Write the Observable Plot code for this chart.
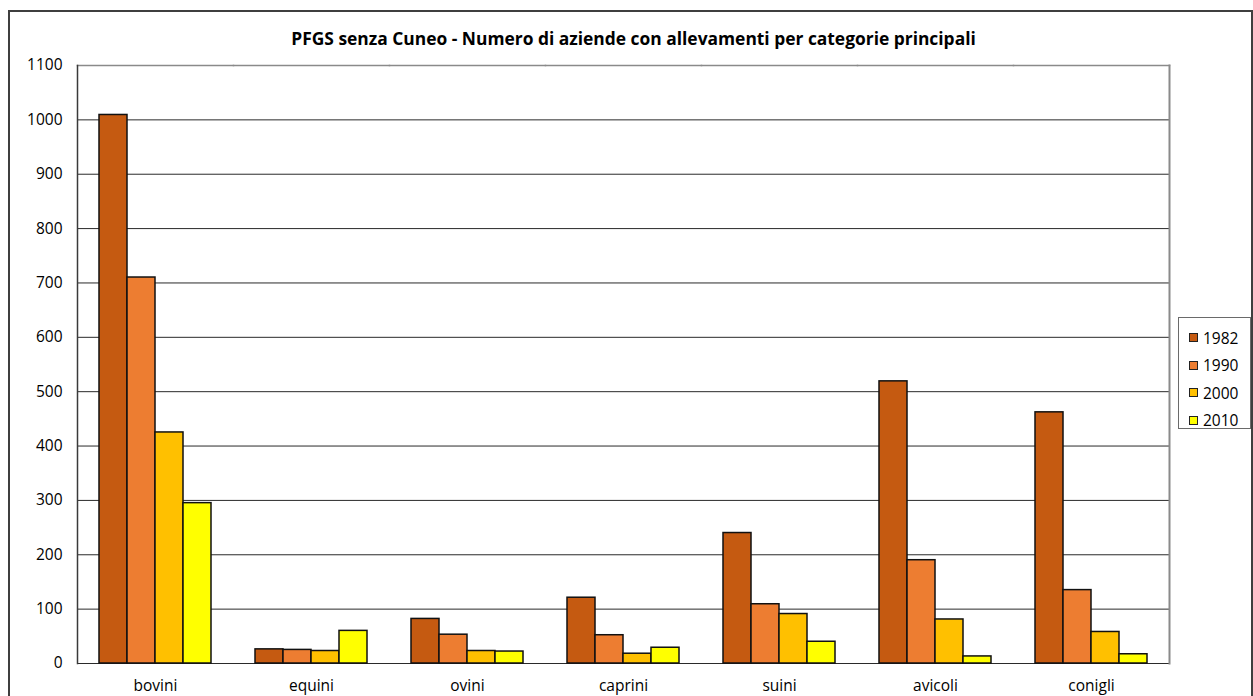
<!DOCTYPE html>
<html>
<head>
<meta charset="utf-8">
<script src="https://cdn.jsdelivr.net/npm/d3@7"></script>
<script src="https://cdn.jsdelivr.net/npm/@observablehq/plot@0.6"></script>
<style>
  html, body { margin: 0; padding: 0; background: #fff; }
  #wrap { position: relative; width: 1253px; height: 696px; overflow: hidden; background: #fff; font-family: "Open Sans", Lato, sans-serif; }
  #border { position: absolute; left: 8px; top: 10px; width: 1245px; height: 720px; box-sizing: border-box; border: 2px solid #3f3f3f; }
  #title { position: absolute; left: 0; width: 1253px; top: 26px; text-align: center; font-weight: bold; font-size: 17.4px; color: #000; white-space: nowrap; padding-left: 14px; box-sizing: border-box; }
  #chart { position: absolute; left: 0; top: 0; }
  #legend { position: absolute; left: 1178px; top: 317px; width: 73px; height: 112px; box-sizing: border-box; border: 1px solid #6a6a6a; background: #fff; padding-top: 6px; }
  .item { height: 27.5px; display: flex; align-items: center; font-size: 15.5px; color: #000; }
  .sw { width: 7px; height: 7px; border: 1.3px solid #222; margin-left: 10px; margin-right: 5px; }
</style>
</head>
<body>
<div id="wrap">
  <div id="border"></div>
  <div id="chart"></div>
  <div id="title"></div>
  <div id="legend"></div>
</div>
<script>
const titleText = "PFGS senza Cuneo - Numero di aziende con allevamenti per categorie principali";
const categories = ["bovini", "equini", "ovini", "caprini", "suini", "avicoli", "conigli"];
const years = ["1982", "1990", "2000", "2010"];
const v1982 = [1009, 26, 82, 121, 240, 519, 462];
const v1990 = [710, 25, 53, 52, 109, 190, 135];
const v2000 = [425, 23, 23, 18, 91, 81, 58];
const v2010 = [295, 60, 22, 29, 40, 13, 17];
const yTicks = [0, 100, 200, 300, 400, 500, 600, 700, 800, 900, 1000, 1100];
const colors = ["#C55A11", "#ED7D31", "#FFC000", "#FFFF00"];

const series = [v1982, v1990, v2000, v2010];
const data = [];
categories.forEach((c, i) => {
  years.forEach((y, j) => data.push({cat: c, year: y, value: series[j][i]}));
});

document.getElementById("title").textContent = titleText;

const chart = Plot.plot({
  width: 1253,
  height: 696,
  marginLeft: 77,
  marginRight: 84,
  marginTop: 65,
  marginBottom: 33,
  style: {fontFamily: "'Open Sans', Lato, sans-serif", fontSize: "16px", color: "#000", background: "transparent"},
  fx: {domain: categories, padding: 0, label: null},
  x: {domain: years, paddingInner: 0, paddingOuter: 0.74, axis: null},
  y: {domain: [0, 1100], label: null},
  color: {domain: years, range: colors},
  marks: [
    Plot.gridY(yTicks.filter(t => t < 1100), {stroke: "#2a2a2a", strokeOpacity: 1, strokeWidth: 1}),
    Plot.frame({anchor: "top", stroke: "#8a8a8a", strokeWidth: 1.5}),
    Plot.frame({anchor: "right", stroke: "#8a8a8a", strokeWidth: 2, facetAnchor: "right"}),
    Plot.frame({anchor: "left", stroke: "#3a3a3a", strokeWidth: 1.5, facetAnchor: "left"}),
    Plot.barY(data, {fx: "cat", x: "year", y: "value", fill: "year", stroke: "#111", strokeWidth: 1.5}),
    Plot.axisY({ticks: yTicks, tickFormat: d => String(d), tickSize: 0, tickPadding: 15, label: null, fontSize: 15.5}),
    Plot.axisFx({anchor: "bottom", tickSize: 0, tickPadding: 16, label: null, fontSize: 15.5})
  ]
});
document.getElementById("chart").appendChild(chart);

const legend = d3.select("#legend");
years.forEach((y, j) => {
  const it = legend.append("div").attr("class", "item");
  it.append("div").attr("class", "sw").style("background", colors[j]);
  it.append("span").text(y);
});
</script>
</body>
</html>
